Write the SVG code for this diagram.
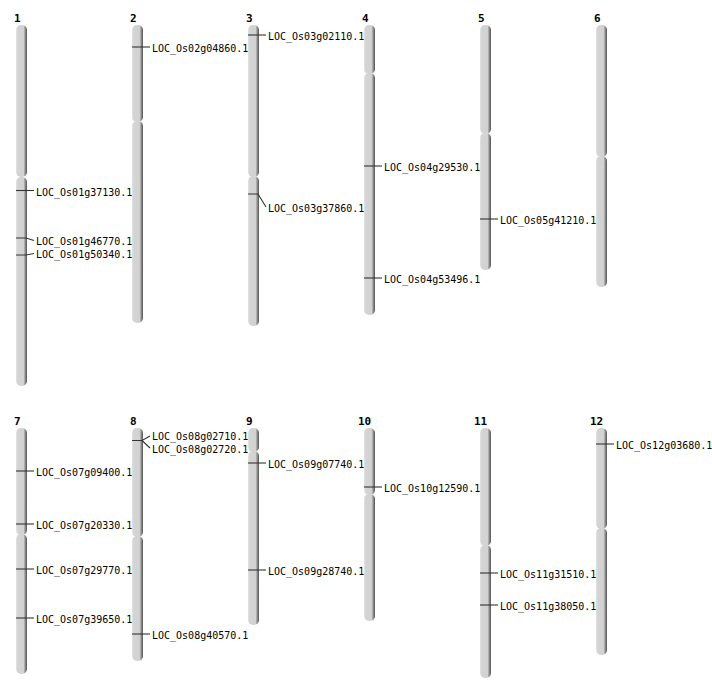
<svg xmlns="http://www.w3.org/2000/svg" width="712" height="700" viewBox="0 0 712 700">
<defs>
<linearGradient id="g" x1="0" y1="0" x2="1" y2="0">
<stop offset="0" stop-color="#e4e4e4"/>
<stop offset="0.15" stop-color="#d4d4d4"/>
<stop offset="0.68" stop-color="#d2d2d2"/>
<stop offset="0.8" stop-color="#a0a0a0"/>
<stop offset="1" stop-color="#505050"/>
</linearGradient>
</defs>
<style>
.arm{fill:url(#g);stroke:none}
.num{font-family:"DejaVu Sans Mono",monospace;font-size:11px;font-weight:bold;fill:#000}
.lab{font-family:"DejaVu Sans Mono",monospace;font-size:10px;fill:#000}
.ln{stroke:#333;stroke-width:1.1;fill:none}
</style>
<rect width="712" height="700" fill="#fff"/>

<g id="chr1"><text class="num" x="14" y="22">1</text>
<rect class="arm" x="16" y="25" width="11" height="152" rx="5"/>
<rect class="arm" x="16" y="177" width="11" height="209" rx="5"/></g>
<g id="chr2"><text class="num" x="130" y="22">2</text>
<rect class="arm" x="132" y="25" width="11" height="97" rx="5"/>
<rect class="arm" x="132" y="121" width="11" height="202" rx="5"/></g>
<g id="chr3"><text class="num" x="246" y="22">3</text>
<rect class="arm" x="248" y="25" width="11" height="152" rx="5"/>
<rect class="arm" x="248" y="176" width="11" height="150" rx="5"/></g>
<g id="chr4"><text class="num" x="362" y="22">4</text>
<rect class="arm" x="364" y="25" width="11" height="49" rx="5"/>
<rect class="arm" x="364" y="73" width="11" height="242" rx="5"/></g>
<g id="chr5"><text class="num" x="478" y="22">5</text>
<rect class="arm" x="480" y="25" width="11" height="109" rx="5"/>
<rect class="arm" x="480" y="133" width="11" height="137" rx="5"/></g>
<g id="chr6"><text class="num" x="594" y="22">6</text>
<rect class="arm" x="596" y="25" width="11" height="132" rx="5"/>
<rect class="arm" x="596" y="156" width="11" height="131" rx="5"/></g>

<g id="chr7"><text class="num" x="14" y="425">7</text>
<rect class="arm" x="16" y="428" width="11" height="107" rx="5"/>
<rect class="arm" x="16" y="534" width="11" height="140" rx="5"/></g>
<g id="chr8"><text class="num" x="130" y="425">8</text>
<rect class="arm" x="132" y="428" width="11" height="109" rx="5"/>
<rect class="arm" x="132" y="536" width="11" height="125" rx="5"/></g>
<g id="chr9"><text class="num" x="246" y="425">9</text>
<rect class="arm" x="248" y="428" width="11" height="24" rx="5"/>
<rect class="arm" x="248" y="451" width="11" height="174" rx="5"/></g>
<g id="chr10"><text class="num" x="358" y="425">10</text>
<rect class="arm" x="364" y="428" width="11" height="67" rx="5"/>
<rect class="arm" x="364" y="494" width="11" height="127" rx="5"/></g>
<g id="chr11"><text class="num" x="474" y="425">11</text>
<rect class="arm" x="480" y="428" width="11" height="118" rx="5"/>
<rect class="arm" x="480" y="545" width="11" height="133" rx="5"/></g>
<g id="chr12"><text class="num" x="590" y="425">12</text>
<rect class="arm" x="596" y="428" width="11" height="101" rx="5"/>
<rect class="arm" x="596" y="528" width="11" height="127" rx="5"/></g>

<g id="connectors">
<path class="ln" d="M16 190.5H34"/>
<path class="ln" d="M16 238H26L34 240.5"/>
<path class="ln" d="M16 255H26L34 253.5"/>
<path class="ln" d="M132 47H150"/>
<path class="ln" d="M248 35H266"/>
<path class="ln" d="M248 194H258L266 207"/>
<path class="ln" d="M364 166H382"/>
<path class="ln" d="M364 278H382"/>
<path class="ln" d="M480 219H498"/>
<path class="ln" d="M16 471H34"/>
<path class="ln" d="M16 524H34"/>
<path class="ln" d="M16 569H34"/>
<path class="ln" d="M16 618H34"/>
<path class="ln" d="M132 440.5H142L150 436M142 440.5L150 448"/>
<path class="ln" d="M132 634H150"/>
<path class="ln" d="M248 463H266"/>
<path class="ln" d="M248 570H266"/>
<path class="ln" d="M364 487H382"/>
<path class="ln" d="M480 573H498"/>
<path class="ln" d="M480 605H498"/>
<path class="ln" d="M596 444H614"/>
</g>

<g id="labels">
<text class="lab" x="36" y="196">LOC_Os01g37130.1</text>
<text class="lab" x="36" y="245">LOC_Os01g46770.1</text>
<text class="lab" x="36" y="258">LOC_Os01g50340.1</text>
<text class="lab" x="152" y="52">LOC_Os02g04860.1</text>
<text class="lab" x="268" y="40">LOC_Os03g02110.1</text>
<text class="lab" x="268" y="212">LOC_Os03g37860.1</text>
<text class="lab" x="384" y="171">LOC_Os04g29530.1</text>
<text class="lab" x="384" y="283">LOC_Os04g53496.1</text>
<text class="lab" x="500" y="224">LOC_Os05g41210.1</text>
<text class="lab" x="36" y="476">LOC_Os07g09400.1</text>
<text class="lab" x="36" y="529">LOC_Os07g20330.1</text>
<text class="lab" x="36" y="574">LOC_Os07g29770.1</text>
<text class="lab" x="36" y="623">LOC_Os07g39650.1</text>
<text class="lab" x="152" y="440">LOC_Os08g02710.1</text>
<text class="lab" x="152" y="453">LOC_Os08g02720.1</text>
<text class="lab" x="152" y="639">LOC_Os08g40570.1</text>
<text class="lab" x="268" y="468">LOC_Os09g07740.1</text>
<text class="lab" x="268" y="575">LOC_Os09g28740.1</text>
<text class="lab" x="384" y="492">LOC_Os10g12590.1</text>
<text class="lab" x="500" y="578">LOC_Os11g31510.1</text>
<text class="lab" x="500" y="610">LOC_Os11g38050.1</text>
<text class="lab" x="616" y="449">LOC_Os12g03680.1</text>
</g>
</svg>
